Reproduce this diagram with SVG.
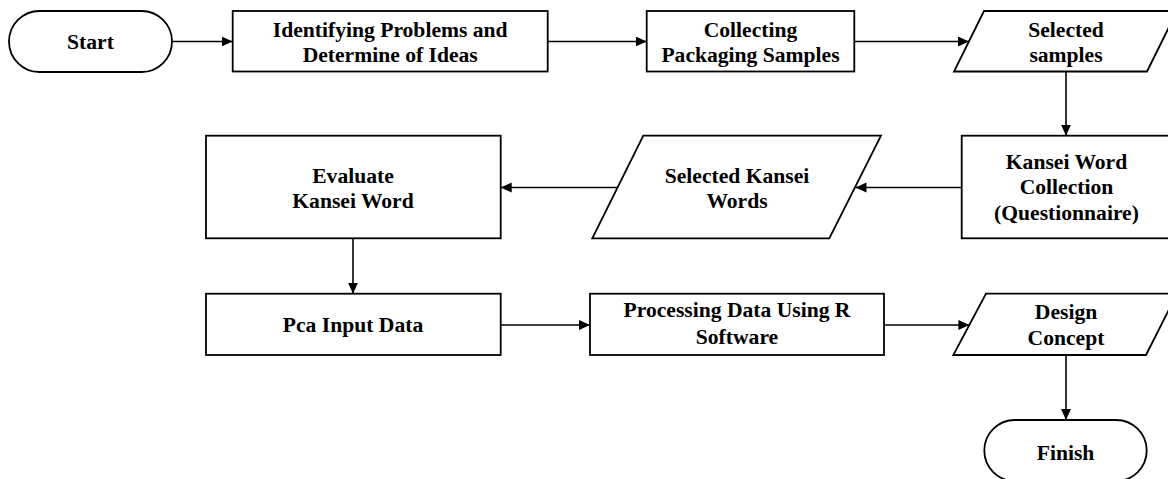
<svg xmlns="http://www.w3.org/2000/svg" width="1168" height="479" viewBox="0 0 1168 479">
<style>
.shape{fill:#fff;stroke:#000;stroke-width:1.8}
.lbl{font-family:"Liberation Serif","Times New Roman",serif;font-weight:bold;font-size:21.6px;fill:#000;text-anchor:middle}
.conn{stroke:#000;stroke-width:1.6;fill:none;marker-end:url(#arr)}
</style>
<defs>
<marker id="arr" markerUnits="userSpaceOnUse" markerWidth="12" markerHeight="11" refX="11" refY="5" orient="auto">
<path d="M0,0 L11,5 L0,10 z" fill="#000"/>
</marker>
</defs>
<rect width="1168" height="479" fill="#fff"/>
<g id="connectors">
<line class="conn" x1="172" y1="41.5" x2="232.7" y2="41.5"/>
<line class="conn" x1="547.7" y1="41.5" x2="646.7" y2="41.5"/>
<line class="conn" x1="854.3" y1="41.5" x2="969" y2="41.5"/>
<line class="conn" x1="1066" y1="71" x2="1066" y2="135.7"/>
<line class="conn" x1="961.7" y1="187.5" x2="855.5" y2="187.5"/>
<line class="conn" x1="617" y1="187.5" x2="500.7" y2="187.5"/>
<line class="conn" x1="353" y1="238.3" x2="353" y2="293.7"/>
<line class="conn" x1="500.7" y1="325" x2="590" y2="325"/>
<line class="conn" x1="884" y1="325" x2="969.4" y2="325"/>
<line class="conn" x1="1066" y1="355" x2="1066" y2="420"/>
</g>
<g id="start">
<rect class="shape" x="9" y="11" width="163" height="61" rx="30.5" ry="30.5"/>
<text class="lbl" x="90.5" y="48.5">Start</text>
</g>
<g id="identify">
<rect class="shape" x="232.7" y="11" width="315" height="60.5"/>
<text class="lbl" x="390.2" y="36.5">Identifying Problems and</text>
<text class="lbl" x="390.2" y="61.5">Determine of Ideas</text>
</g>
<g id="collecting">
<rect class="shape" x="646.7" y="11" width="207.6" height="60.5"/>
<text class="lbl" x="750.5" y="36.5">Collecting</text>
<text class="lbl" x="750.5" y="61.5">Packaging Samples</text>
</g>
<g id="selected-samples">
<polygon class="shape" points="984,11 1177,11 1147,71.5 954,71.5"/>
<text class="lbl" x="1066" y="36.5">Selected</text>
<text class="lbl" x="1066" y="61.5">samples</text>
</g>
<g id="kansei-collection">
<rect class="shape" x="961.7" y="135.7" width="210" height="102.6"/>
<text class="lbl" x="1066.5" y="168.5">Kansei Word</text>
<text class="lbl" x="1066.5" y="194">Collection</text>
<text class="lbl" x="1066.5" y="219.5">(Questionnaire)</text>
</g>
<g id="selected-kansei">
<polygon class="shape" points="643.3,135.7 881,135.7 829.3,238.3 592.3,238.3"/>
<text class="lbl" x="737" y="182.5">Selected Kansei</text>
<text class="lbl" x="737" y="207.5">Words</text>
</g>
<g id="evaluate">
<rect class="shape" x="206" y="135.7" width="294.7" height="102.6"/>
<text class="lbl" x="353" y="182.5">Evaluate</text>
<text class="lbl" x="353" y="208">Kansei Word</text>
</g>
<g id="pca">
<rect class="shape" x="206" y="293.7" width="294.7" height="61.3"/>
<text class="lbl" x="353" y="332">Pca Input Data</text>
</g>
<g id="processing">
<rect class="shape" x="590" y="293.7" width="294" height="61.3"/>
<text class="lbl" x="737" y="317">Processing Data Using R</text>
<text class="lbl" x="737" y="343.5">Software</text>
</g>
<g id="design">
<polygon class="shape" points="986,293.7 1177,293.7 1146,355 953.3,355"/>
<text class="lbl" x="1066" y="319">Design</text>
<text class="lbl" x="1066" y="345">Concept</text>
</g>
<g id="finish">
<rect class="shape" x="984.3" y="420" width="162.4" height="61" rx="30.5" ry="30.5"/>
<text class="lbl" x="1065.5" y="460">Finish</text>
</g>
</svg>
